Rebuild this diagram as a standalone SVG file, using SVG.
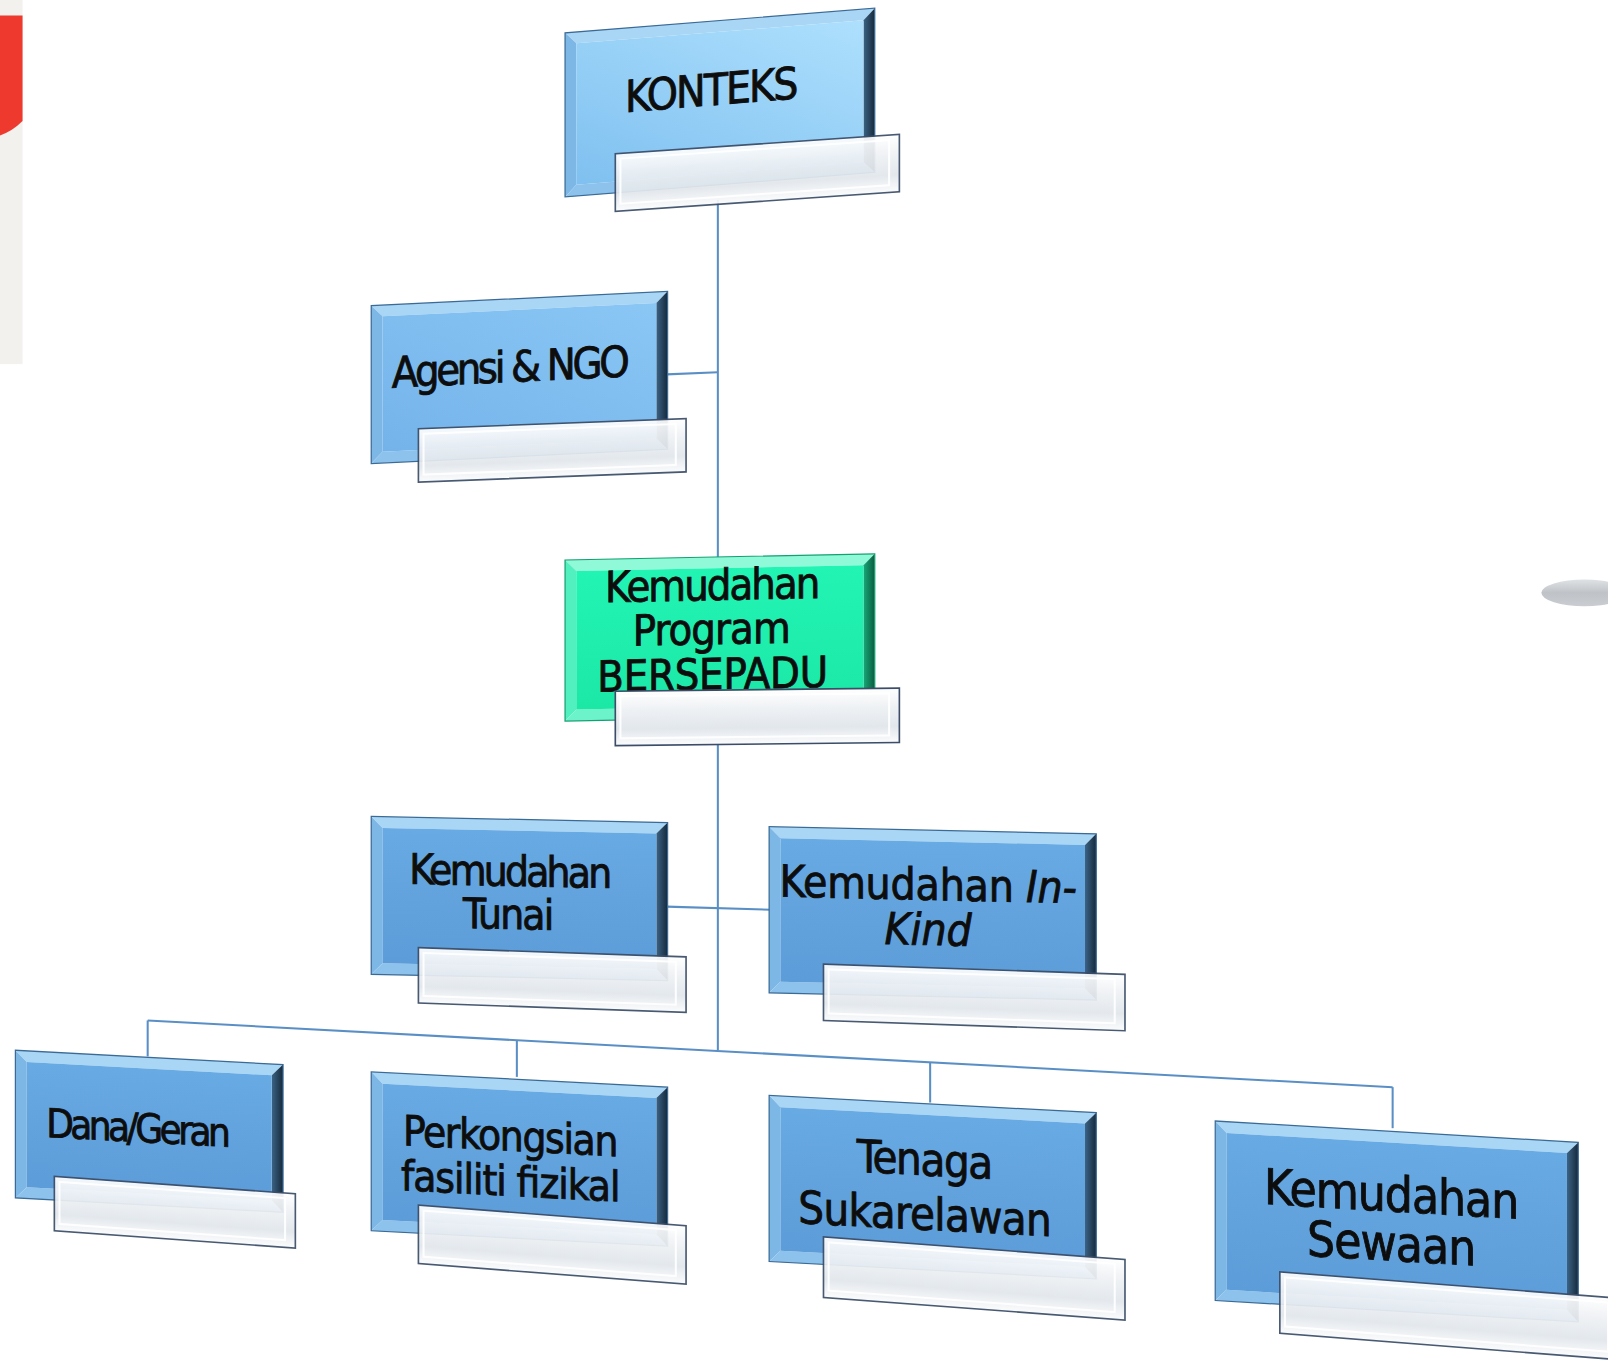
<svg xmlns="http://www.w3.org/2000/svg" width="1608" height="1361" viewBox="0 0 1608 1361">
<defs>
<linearGradient id="capG" x1="0" y1="0" x2="0" y2="1">
<stop offset="0" stop-color="#ffffff"/><stop offset="0.35" stop-color="#eef1f4"/><stop offset="0.7" stop-color="#e2e7ec"/><stop offset="1" stop-color="#fbfcfd"/>
</linearGradient>
<linearGradient id="faceBlue" x1="0" y1="0" x2="0" y2="1">
<stop offset="0" stop-color="#68aae3"/><stop offset="1" stop-color="#5c9cd8"/>
</linearGradient>
<linearGradient id="faceTop" x1="1" y1="0" x2="0" y2="1">
<stop offset="0" stop-color="#aee0fd"/><stop offset="1" stop-color="#7fc0f0"/>
</linearGradient>
<linearGradient id="faceAg" x1="1" y1="0" x2="0" y2="1">
<stop offset="0" stop-color="#8ac7f5"/><stop offset="1" stop-color="#74b3ea"/>
</linearGradient>
<linearGradient id="faceGreen" x1="0" y1="0" x2="0" y2="1">
<stop offset="0" stop-color="#22f4b4"/><stop offset="1" stop-color="#1ce8a6"/>
</linearGradient>
<linearGradient id="darkR" x1="0" y1="0" x2="1" y2="0">
<stop offset="0" stop-color="#3b6385"/><stop offset="1" stop-color="#16293b"/>
</linearGradient>
<linearGradient id="darkRG" x1="0" y1="0" x2="1" y2="0">
<stop offset="0" stop-color="#17a877"/><stop offset="1" stop-color="#0b5b3f"/>
</linearGradient>
<linearGradient id="disc" x1="0" y1="0" x2="0" y2="1">
<stop offset="0" stop-color="#dfe2e5"/><stop offset="0.5" stop-color="#bfc3c7"/><stop offset="1" stop-color="#c9ccd0"/>
</linearGradient>
<style>
.bt{fill:#a9d6f5}.bl{fill:#7db7e6}.bb{fill:#8cc2ec}.br{fill:url(#darkR)}
.f{fill:url(#faceBlue)}
.o{fill:none;stroke:#3a6a96;stroke-width:1.2}
.g .bt{fill:#8ff9d8}.g .bl{fill:#52efbf}.g .bb{fill:#6cf3c9}.g .br{fill:url(#darkRG)}
.g .o{stroke:#15a070}
.cap{fill:url(#capG);stroke:#3b4d68;stroke-width:1.6;opacity:0.93}
.capi{fill:none;stroke:#ffffff;stroke-width:2;opacity:0.9}
.t{font-family:"DejaVu Sans Condensed","Liberation Sans Narrow","Liberation Sans",sans-serif;fill:#0d0d0d;stroke:#0d0d0d;stroke-width:0.8;text-anchor:middle;lengthAdjust:spacingAndGlyphs}
.c{fill:none;stroke:#5a8fc6;stroke-width:2}
</style>
</defs>
<rect width="1608" height="1361" fill="#ffffff"/>
<g transform="scale(1.02551,1.02562)">
<rect x="0" y="0" width="22" height="355" fill="#f2f1ed"/>
<path d="M0,15 L22,15 L22,118 Q12,128 0,132 Z" fill="#ee3a2e"/>
<ellipse cx="1545" cy="578" rx="42" ry="13" fill="url(#disc)"/>

<g id="connectors">
<line class="c" x1="700" y1="195" x2="700" y2="546"/>
<line class="c" x1="650" y1="365" x2="700" y2="363"/>
<line class="c" x1="700" y1="720" x2="700" y2="1024"/>
<line class="c" x1="650" y1="884" x2="752" y2="887"/>
<line class="c" x1="144" y1="995" x2="1358" y2="1060"/>
<line class="c" x1="144" y1="995" x2="144" y2="1030"/>
<line class="c" x1="504" y1="1014" x2="504" y2="1050"/>
<line class="c" x1="907" y1="1036" x2="907" y2="1075"/>
<line class="c" x1="1358" y1="1060" x2="1358" y2="1100"/>
</g>

<g id="node-konteks">
<g transform="matrix(1,-0.0795,0,1,551,32)">
<polygon class="bt" points="0,0 302,0 291,11 11,11"/>
<polygon class="bl" points="0,0 11,11 11,149 0,160"/>
<polygon class="bb" points="0,160 11,149 291,149 302,160"/>
<polygon class="br" points="302,0 302,160 291,149 291,11"/>
<rect x="11" y="11" width="280" height="138" fill="url(#faceTop)"/>
<rect class="o" width="302" height="160"/>
<text class="t" x="143" y="82" font-size="43" textLength="169">KONTEKS</text>
</g>
<g transform="matrix(1,-0.0686,0,1,600,150)">
<rect class="cap" width="277" height="56"/><rect class="capi" x="5" y="5" width="262" height="44"/>
</g>
</g>

<g id="node-agensi">
<g transform="matrix(1,-0.0484,0,1,362,298)">
<polygon class="bt" points="0,0 289,0 278,11 11,11"/>
<polygon class="bl" points="0,0 11,11 11,143 0,154"/>
<polygon class="bb" points="0,154 11,143 278,143 289,154"/>
<polygon class="br" points="289,0 289,154 278,143 278,11"/>
<rect x="11" y="11" width="267" height="132" fill="url(#faceAg)"/>
<rect class="o" width="289" height="154"/>
<text class="t" x="136" y="81" font-size="42" textLength="232">Agensi &amp; NGO</text>
</g>
<g transform="matrix(1,-0.038,0,1,408,418)">
<rect class="cap" width="261" height="52"/><rect class="capi" x="5" y="5" width="246" height="40"/>
</g>
</g>

<g id="node-program" class="g">
<g transform="matrix(1,-0.02,0,1,551,546)">
<polygon class="bt" points="0,0 302,0 291,11 11,11"/>
<polygon class="bl" points="0,0 11,11 11,146 0,157"/>
<polygon class="bb" points="0,157 11,146 291,146 302,157"/>
<polygon class="br" points="302,0 302,157 291,146 291,11"/>
<rect x="11" y="11" width="280" height="135" fill="url(#faceGreen)"/>
<rect class="o" width="302" height="157"/>
<text class="t" x="144" y="42" font-size="42" textLength="210">Kemudahan</text>
<text class="t" x="143" y="85" font-size="42" textLength="154">Program</text>
<text class="t" x="144" y="129" font-size="42" textLength="225">BERSEPADU</text>
</g>
<g transform="matrix(1,-0.011,0,1,600,674)">
<rect class="cap" width="277" height="53" style="opacity:1"/><rect class="capi" x="5" y="5" width="262" height="41"/>
</g>
</g>

<g id="node-tunai">
<g transform="matrix(1,0.0208,0,1,362,796)">
<polygon class="bt" points="0,0 289,0 278,11 11,11"/>
<polygon class="bl" points="0,0 11,11 11,143 0,154"/>
<polygon class="bb" points="0,154 11,143 278,143 289,154"/>
<polygon class="br" points="289,0 289,154 278,143 278,11"/>
<rect x="11" y="11" width="267" height="132" class="f"/>
<rect class="o" width="289" height="154"/>
<text class="t" x="136" y="65" font-size="41" textLength="198">Kemudahan</text>
<text class="t" x="134" y="107" font-size="41" textLength="89">Tunai</text>
</g>
<g transform="matrix(1,0.0345,0,1,408,924)">
<rect class="cap" width="261" height="54"/><rect class="capi" x="5" y="5" width="246" height="42"/>
</g>
</g>

<g id="node-inkind">
<g transform="matrix(1,0.022,0,1,750,806)">
<polygon class="bt" points="0,0 319,0 308,11 11,11"/>
<polygon class="bl" points="0,0 11,11 11,151 0,162"/>
<polygon class="bb" points="0,162 11,151 308,151 319,162"/>
<polygon class="br" points="319,0 319,162 308,151 308,11"/>
<rect x="11" y="11" width="297" height="140" class="f"/>
<rect class="o" width="319" height="162"/>
<text class="t" x="155" y="68" font-size="43" textLength="290">Kemudahan <tspan font-style="italic">In-</tspan></text>
<text class="t" x="155" y="112" font-size="43" textLength="85" font-style="italic">Kind</text>
</g>
<g transform="matrix(1,0.034,0,1,803,940)">
<rect class="cap" width="294" height="55"/><rect class="capi" x="5" y="5" width="279" height="43"/>
</g>
</g>

<g id="node-dana">
<g transform="matrix(1,0.0536,0,1,15,1024)">
<polygon class="bt" points="0,0 261,0 250,11 11,11"/>
<polygon class="bl" points="0,0 11,11 11,133 0,144"/>
<polygon class="bb" points="0,144 11,133 250,133 261,144"/>
<polygon class="br" points="261,0 261,144 250,133 250,11"/>
<rect x="11" y="11" width="239" height="122" class="f"/>
<rect class="o" width="261" height="144"/>
<text class="t" x="120" y="83" font-size="39" textLength="180">Dana/Geran</text>
</g>
<g transform="matrix(1,0.072,0,1,53,1147)">
<rect class="cap" width="235" height="53"/><rect class="capi" x="5" y="5" width="220" height="41"/>
</g>
</g>

<g id="node-perkongsian">
<g transform="matrix(1,0.052,0,1,362,1045)">
<polygon class="bt" points="0,0 289,0 278,11 11,11"/>
<polygon class="bl" points="0,0 11,11 11,144 0,155"/>
<polygon class="bb" points="0,155 11,144 278,144 289,155"/>
<polygon class="br" points="289,0 289,155 278,144 278,11"/>
<rect x="11" y="11" width="267" height="133" class="f"/>
<rect class="o" width="289" height="155"/>
<text class="t" x="136" y="70" font-size="41" textLength="210">Perkongsian</text>
<text class="t" x="136" y="114" font-size="41" textLength="214">fasiliti fizikal</text>
</g>
<g transform="matrix(1,0.077,0,1,408,1175)">
<rect class="cap" width="261" height="57"/><rect class="capi" x="5" y="5" width="246" height="45"/>
</g>
</g>

<g id="node-tenaga">
<g transform="matrix(1,0.053,0,1,750,1068)">
<polygon class="bt" points="0,0 319,0 308,11 11,11"/>
<polygon class="bl" points="0,0 11,11 11,151 0,162"/>
<polygon class="bb" points="0,162 11,151 308,151 319,162"/>
<polygon class="br" points="319,0 319,162 308,151 308,11"/>
<rect x="11" y="11" width="297" height="140" class="f"/>
<rect class="o" width="319" height="162"/>
<text class="t" x="152" y="70" font-size="44" textLength="133">Tenaga</text>
<text class="t" x="152" y="123" font-size="44" textLength="247">Sukarelawan</text>
</g>
<g transform="matrix(1,0.075,0,1,803,1206)">
<rect class="cap" width="294" height="59"/><rect class="capi" x="5" y="5" width="279" height="47"/>
</g>
</g>

<g id="node-sewaan">
<g transform="matrix(1,0.059,0,1,1185,1093)">
<polygon class="bt" points="0,0 354,0 343,11 11,11"/>
<polygon class="bl" points="0,0 11,11 11,164 0,175"/>
<polygon class="bb" points="0,175 11,164 343,164 354,175"/>
<polygon class="br" points="354,0 354,175 343,164 343,11"/>
<rect x="11" y="11" width="332" height="153" class="f"/>
<rect class="o" width="354" height="175"/>
<text class="t" x="172" y="78" font-size="48" textLength="249">Kemudahan</text>
<text class="t" x="172" y="126" font-size="48" textLength="165">Sewaan</text>
</g>
<g transform="matrix(1,0.078,0,1,1248,1240)">
<rect class="cap" width="330" height="60"/><rect class="capi" x="5" y="5" width="315" height="48"/>
</g>
</g>
</g>
</svg>
